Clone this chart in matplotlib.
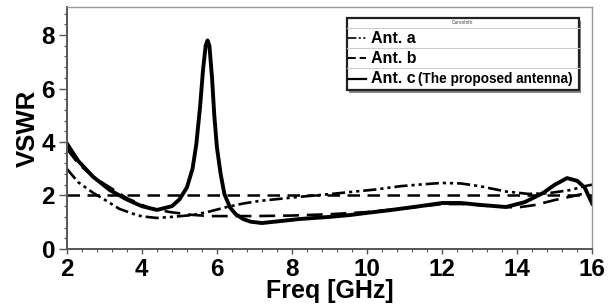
import matplotlib.pyplot as plt
from matplotlib.patches import Rectangle
from matplotlib.ticker import MultipleLocator

plt.rcParams['font.family'] = 'Liberation Sans'
plt.rcParams['font.weight'] = 'bold'

# Ant. a (dash-dot-dot)
fa = [2.0, 2.3, 2.7, 3.0, 3.4, 3.8, 4.0, 4.4, 4.8, 5.36, 5.8, 6.27, 6.7, 7.15, 8.2,
      9.0, 9.55, 10.2, 10.9, 11.5, 12.0, 12.5, 13.0, 13.7, 14.3, 14.8, 15.4, 15.9, 16.0]
va = [3.0, 2.5, 2.1, 1.85, 1.5, 1.3, 1.22, 1.16, 1.2, 1.27, 1.4, 1.57, 1.7, 1.8, 1.95,
      2.05, 2.13, 2.22, 2.35, 2.42, 2.47, 2.45, 2.35, 2.15, 2.06, 2.08, 2.2, 2.38, 2.4]

# Ant. b (dashed)
fb = [2.0, 2.3, 2.7, 3.15, 3.6, 4.2, 4.75, 5.3, 5.8, 7.0, 8.0, 9.0, 10.0, 11.0, 12.0,
      12.7, 13.3, 14.0, 14.5, 15.0, 15.5, 15.8, 16.0]
vb = [3.75, 3.2, 2.7, 2.3, 1.9, 1.53, 1.38, 1.28, 1.23, 1.23, 1.25, 1.3, 1.38, 1.52, 1.68,
      1.68, 1.6, 1.55, 1.65, 1.83, 1.98, 2.08, 1.95]

# Ant. c (solid, proposed)
fc = [2.0, 2.3, 2.7, 3.15, 3.6, 4.0, 4.4, 4.8, 5.0, 5.2, 5.35, 5.45, 5.55, 5.63, 5.7,
      5.75, 5.8, 5.87, 5.93, 6.0, 6.1, 6.2, 6.35, 6.5, 6.7, 6.9, 7.2, 7.6, 8.2, 9.0,
      9.55, 10.0, 10.6, 11.4, 12.0, 12.5, 13.0, 13.7, 14.2, 14.7, 15.0, 15.33, 15.6,
      15.8, 16.0]
vc = [3.95, 3.3, 2.7, 2.2, 1.85, 1.6, 1.46, 1.6, 1.85, 2.3, 3.0, 3.9, 5.3, 6.7, 7.6,
      7.8, 7.6, 6.4, 5.0, 3.8, 2.8, 2.05, 1.55, 1.3, 1.12, 1.02, 0.97, 1.03, 1.12, 1.2,
      1.27, 1.35, 1.45, 1.6, 1.72, 1.72, 1.65, 1.57, 1.75, 2.1, 2.4, 2.65, 2.55,
      2.3, 1.7]

ref_f = [2, 16]
ref_v = [2, 2]

dashdotdot = (0, (5, 1.5, 1.2, 1.5, 1.2, 1.5))

fig = plt.figure(figsize=(6.13, 3.04), dpi=100)
ax = fig.add_axes([0.109, 0.181, 0.857, 0.796])

ax.plot(ref_f, ref_v, color='black', lw=1.8, ls=(0, (5, 3)))
ax.plot(fa, va, color='black', lw=1.9, ls=dashdotdot)
ax.plot(fb, vb, color='black', lw=1.9, ls=(0, (6, 3)))
ax.plot(fc, vc, color='black', lw=2.8)

ax.set_xlim(2, 16)
ax.set_ylim(0, 9.05)
ax.xaxis.set_major_locator(MultipleLocator(2))
ax.xaxis.set_minor_locator(MultipleLocator(0.4))
ax.yaxis.set_major_locator(MultipleLocator(2))
ax.yaxis.set_minor_locator(MultipleLocator(0.4))
ax.tick_params(which='both', direction='out', colors='#555555', labelcolor='black',
               labelsize=17.5, top=False, right=False)
ax.tick_params(axis='x', which='major', length=3.6, width=1, pad=3)
ax.tick_params(axis='y', which='major', length=6, width=1, pad=2.5)
ax.tick_params(which='minor', length=2, width=0.8)
for lbl in ax.get_xticklabels() + ax.get_yticklabels():
    lbl.set_fontweight('bold')

for s in ['left', 'bottom']:
    ax.spines[s].set_color('#555555')
    ax.spines[s].set_linewidth(1.4)
for s in ['top', 'right']:
    ax.spines[s].set_color('#999999')
    ax.spines[s].set_linewidth(1.0)

ax.set_xlabel('Freq [GHz]', fontsize=18, fontweight='bold', labelpad=-1.5)
ax.set_ylabel('VSWR', fontsize=18.5, fontweight='bold', labelpad=1)

# legend box drawn as a small table
x0, x1 = 0.533, 0.975
ytop, ybot = 0.955, 0.657
rows = [0.913, 0.830, 0.748]
ax.add_patch(Rectangle((x0 + 0.004, ybot - 0.012), x1 - x0, ytop - ybot,
                       transform=ax.transAxes, facecolor='#888888', edgecolor='none', zorder=4))
ax.add_patch(Rectangle((x0, ybot), x1 - x0, ytop - ybot, transform=ax.transAxes,
                       facecolor='white', edgecolor='#222222', lw=1.6, zorder=5))
for yy in rows:
    ax.plot([x0, x1], [yy, yy], transform=ax.transAxes, color='#cccccc', lw=0.8, zorder=6)
ax.text((x0 + x1) / 2, (ytop + rows[0]) / 2, 'CurveInfo', transform=ax.transAxes,
        fontsize=3.5, fontweight='normal', color='#444444', ha='center', va='center', zorder=7)

labels = ['Ant. a', 'Ant. b', 'Ant. c']
styles = [dashdotdot, (0, (4, 2)), '-']
widths = [1.2, 1.4, 1.6]
edges = [rows[0], rows[1], rows[2], ybot]
for i in range(3):
    yc = (edges[i] + edges[i + 1]) / 2
    ax.plot([x0 + 0.003, x0 + 0.036], [yc, yc], transform=ax.transAxes, color='black',
            lw=widths[i], ls=styles[i], zorder=7)
    ax.text(x0 + 0.046, yc, labels[i], transform=ax.transAxes, fontsize=11.5,
            fontweight='bold', ha='left', va='center', zorder=7)
ax.text(0.668, (edges[2] + edges[3]) / 2, '(The proposed antenna)', transform=ax.transAxes,
        fontsize=9.8, fontweight='bold', ha='left', va='center', zorder=7)

fig.savefig('out.png', dpi=100)
